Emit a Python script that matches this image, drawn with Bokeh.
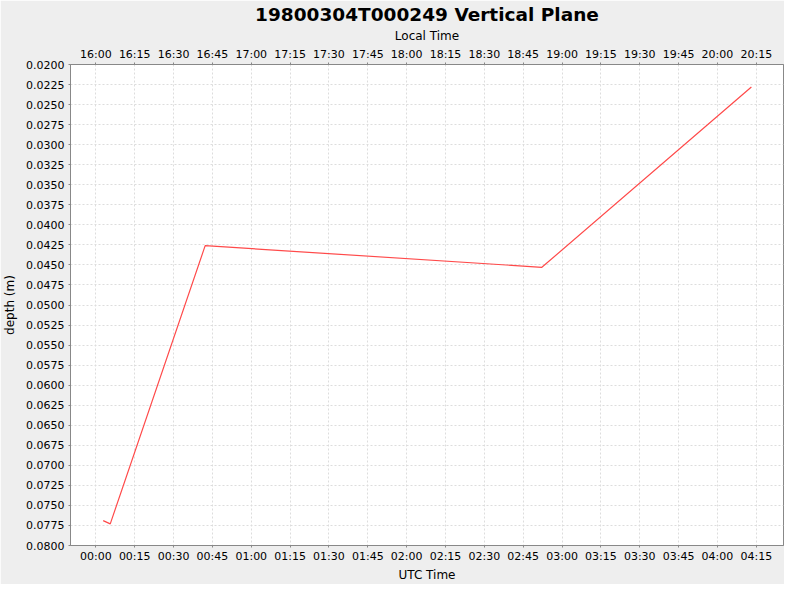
from datetime import datetime, timedelta
import pandas as pd
from bokeh.plotting import figure
from bokeh.models import (Range1d, DatetimeAxis, FixedTicker, DatetimeTickFormatter,
                          NumeralTickFormatter, SingleIntervalTicker)
from bokeh.embed import file_html
from bokeh.resources import INLINE

# ---- data ----
utc_times = ["1980-03-04 00:02:49", "1980-03-04 00:05:33", "1980-03-04 00:42:12",
             "1980-03-04 02:52:12", "1980-03-04 04:13:06"]
depths = [0.0769, 0.0773, 0.0426, 0.0453, 0.0228]

title_text = "19800304T000249 Vertical Plane"
x_label = "UTC Time"
top_label = "Local Time"
y_label = "depth (m)"
local_offset_hours = -8

x_start = "1980-03-03 23:50:12"
x_end = "1980-03-04 04:25:30"
y_top, y_bottom = 0.0200, 0.0800
tick_minutes = 15

FONT = "DejaVu Sans"

t = pd.to_datetime(utc_times)
xs = pd.Timestamp(x_start)
xe = pd.Timestamp(x_end)
off = pd.Timedelta(hours=local_offset_hours)

def ms(ts):
    return (ts - pd.Timestamp("1970-01-01")) / pd.Timedelta(milliseconds=1)

utc_ticks = [ms(ts) for ts in pd.date_range(xs.ceil("15min"), xe, freq=f"{tick_minutes}min")]
loc_ticks = [ms(ts) for ts in pd.date_range((xs + off).ceil("15min"), xe + off, freq=f"{tick_minutes}min")]

p = figure(width=784, height=584, output_backend="svg", toolbar_location=None,
           x_axis_type="datetime",
           x_range=Range1d(xs, xe), y_range=Range1d(y_bottom, y_top),
           min_border_left=10, min_border_right=1, min_border_top=0, min_border_bottom=0)

p.extra_x_ranges = {"local": Range1d(xs + off, xe + off)}

p.line(t, depths, line_color="#ff4a4a", line_width=1.2)

p.border_fill_color = "#eeeeee"
p.background_fill_color = "white"
p.outline_line_color = "#888888"

p.title.text = title_text
p.title.align = "center"
p.title.text_font = FONT
p.title.text_font_size = "18.5px"
p.title.text_font_style = "bold"
p.title.text_color = "black"
p.title.standoff = 2
p.title.offset = 0

fmt = DatetimeTickFormatter(minutes="%H:%M", hours="%H:%M", minsec="%H:%M", hourmin="%H:%M",
                            days="%H:%M", boundary_scaling=False)

xa = p.xaxis[0]
xa.ticker = FixedTicker(ticks=utc_ticks)
xa.formatter = fmt
xa.axis_label = x_label

top = DatetimeAxis(x_range_name="local", ticker=FixedTicker(ticks=loc_ticks), formatter=fmt,
                   axis_label=top_label)
p.add_layout(top, "above")

ya = p.yaxis[0]
ya.ticker = SingleIntervalTicker(interval=0.0025)
ya.formatter = NumeralTickFormatter(format="0.0000")
ya.axis_label = y_label

for ax in [xa, top, ya]:
    ax.axis_line_color = "#888888"
    ax.major_tick_line_color = "#888888"
    ax.major_tick_in = 0
    ax.major_tick_out = 2
    ax.minor_tick_line_color = None
    ax.major_label_text_font = FONT
    ax.major_label_text_font_size = "11px"
    ax.major_label_text_color = "black"
    ax.axis_label_text_font = FONT
    ax.axis_label_text_font_size = "12px"
    ax.axis_label_text_font_style = "normal"
    ax.axis_label_text_color = "black"
    ax.axis_label_standoff = 2
    ax.major_label_standoff = 2

ya.axis_label_standoff = 6

p.xgrid.ticker = FixedTicker(ticks=utc_ticks)
for g in [p.xgrid[0], p.ygrid[0]]:
    g.grid_line_color = "#dddddd"
    g.grid_line_dash = "2 2"
    g.grid_line_width = 1

open("out.html", "w").write(file_html(p, INLINE))
